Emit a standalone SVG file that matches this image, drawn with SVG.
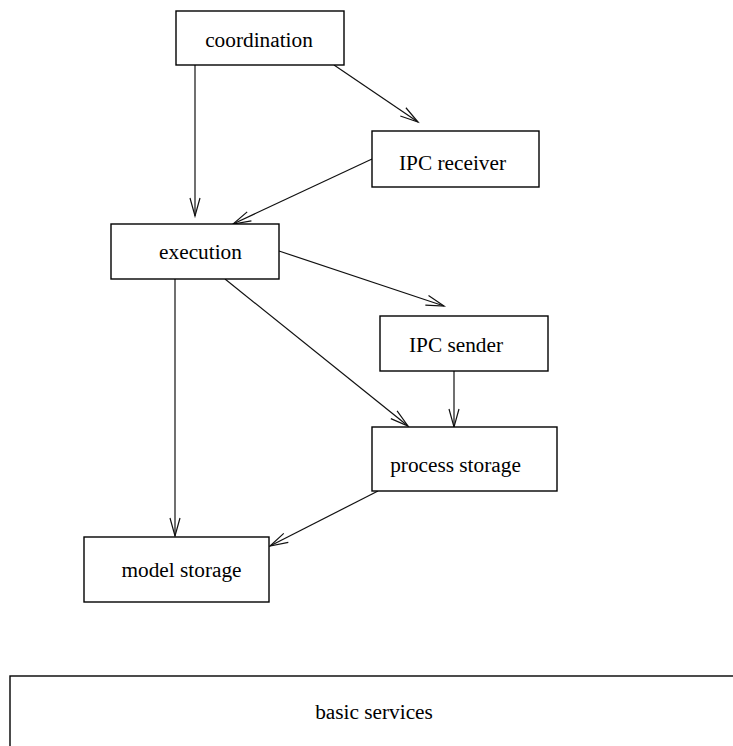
<svg xmlns="http://www.w3.org/2000/svg" width="733" height="746" viewBox="0 0 733 746">
  <style>
    .box { fill: #ffffff; stroke: #000000; stroke-width: 1.4; }
    .label { font-family: "Liberation Serif", "Times New Roman", serif; font-size: 21.3px; fill: #000000; text-anchor: middle; }
    .edge { fill: none; stroke: #111111; stroke-width: 1.2; marker-end: url(#vee); }
  </style>
  <defs>
    <marker id="vee" markerUnits="userSpaceOnUse" markerWidth="24" markerHeight="14" viewBox="-20 -7 22 14" refX="0" refY="0" orient="auto" overflow="visible">
      <path d="M -18 -5 L 0 0 L -18 5" fill="none" stroke="#111111" stroke-width="1.2"/>
    </marker>
  </defs>

  <rect width="733" height="746" fill="#ffffff"/>

  <g id="connectors">
    <line class="edge" x1="195" y1="65" x2="195" y2="216"/>
    <line class="edge" x1="334" y1="65" x2="418" y2="122"/>
    <line class="edge" x1="372" y1="159" x2="233" y2="224"/>
    <line class="edge" x1="279" y1="251" x2="444" y2="306"/>
    <line class="edge" x1="225" y1="279" x2="408" y2="426"/>
    <line class="edge" x1="454" y1="371" x2="454" y2="427"/>
    <line class="edge" x1="175" y1="279" x2="175" y2="536"/>
    <line class="edge" x1="378" y1="491" x2="270" y2="546"/>
  </g>

  <g id="coordination">
    <rect class="box" x="176" y="11" width="168" height="54"/>
    <text class="label" x="259" y="47">coordination</text>
  </g>

  <g id="ipc-receiver">
    <rect class="box" x="372" y="131" width="167" height="56"/>
    <text class="label" x="452.5" y="170">IPC receiver</text>
  </g>

  <g id="execution">
    <rect class="box" x="111" y="224" width="168" height="55"/>
    <text class="label" x="200.5" y="259">execution</text>
  </g>

  <g id="ipc-sender">
    <rect class="box" x="380" y="316" width="168" height="55"/>
    <text class="label" x="456" y="352">IPC sender</text>
  </g>

  <g id="process-storage">
    <rect class="box" x="372" y="427" width="185" height="64"/>
    <text class="label" x="455.5" y="472">process storage</text>
  </g>

  <g id="model-storage">
    <rect class="box" x="84" y="537" width="185" height="65"/>
    <text class="label" x="181.5" y="577">model storage</text>
  </g>

  <g id="basic-services">
    <rect class="box" x="10" y="676" width="740" height="100"/>
    <text class="label" x="374" y="719">basic services</text>
  </g>
</svg>
